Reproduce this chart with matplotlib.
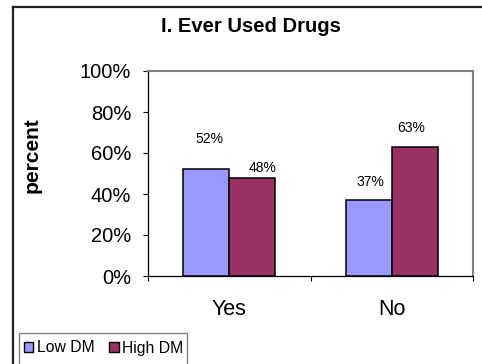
import matplotlib
matplotlib.use("Agg")
import matplotlib.pyplot as plt
from matplotlib.patches import Rectangle, Patch
from matplotlib.lines import Line2D
import numpy as np

plt.rcParams['font.family'] = ['Liberation Sans', 'DejaVu Sans']

categories = ["Yes", "No"]
series_names = ["Low DM", "High DM"]
low_dm = [52, 37]
high_dm = [48, 63]
colors = ["#9999FF", "#993366"]
# pixel offsets (dx, dy) of each value label relative to its bar top centre
label_offsets = {
    "Low DM": [(3, 30), (2, 18)],
    "High DM": [(10, 10), (-4, 19)],
}

W, H = 482, 364
fig = plt.figure(figsize=(W / 100, H / 100), dpi=100)

# plot area
ax = fig.add_axes([148 / W, 1 - 276 / H, (473 - 148) / W, (276 - 71) / H])

x = np.arange(len(categories))
bw = 0.283
bars_low = ax.bar(x - bw / 2, low_dm, bw, color=colors[0], edgecolor="black", linewidth=1.1, zorder=3)
bars_high = ax.bar(x + bw / 2, high_dm, bw, color=colors[1], edgecolor="black", linewidth=1.1, zorder=3)

for bars, vals, name in [(bars_low, low_dm, "Low DM"), (bars_high, high_dm, "High DM")]:
    for b, v, (dx, dy) in zip(bars, vals, label_offsets[name]):
        ax.annotate(f"{v}%", (b.get_x() + b.get_width() / 2, v),
                    xytext=(dx * 0.72, dy * 0.72), textcoords="offset points",
                    ha="center", va="center", fontsize=10)

ax.set_xlim(-0.5, 1.5)
ax.set_ylim(0, 100)
ax.set_yticks(range(0, 101, 20))
ax.set_yticklabels([f"{v}%" for v in range(0, 101, 20)], fontsize=14.5)
ax.tick_params(axis="y", direction="out", length=3.6, width=0.8, pad=8.5)

ax.set_xticks([-0.5, 0.5, 1.5])
ax.set_xticklabels([])
ax.tick_params(axis="x", which="major", direction="out", length=3.6, width=0.8)
ax.set_xticks(x, minor=True)
ax.set_xticklabels(categories, minor=True, fontsize=15.5)
ax.tick_params(axis="x", which="minor", length=0, pad=16.5)

for s in ["top", "right"]:
    ax.spines[s].set_color("#808080")
    ax.spines[s].set_linewidth(1.5)
for s in ["left", "bottom"]:
    ax.spines[s].set_color("black")
    ax.spines[s].set_linewidth(0.9)

fig.text(251 / W, 1 - 26 / H, "I. Ever Used Drugs", ha="center", va="center",
         fontsize=14.5, fontweight="bold")
fig.text(32 / W, 1 - 155 / H, "percent", ha="center", va="center",
         rotation=90, fontsize=15, fontweight="bold")

# chart area border (top and left edges visible)
fig.add_artist(Line2D([13 / W, 13 / W], [0, 1 - 7 / H], color="#222222", linewidth=1.6,
                      transform=fig.transFigure))
fig.add_artist(Line2D([13 / W, 1], [1 - 7 / H, 1 - 7 / H], color="#222222", linewidth=1.6,
                      transform=fig.transFigure))

# legend box
fig.add_artist(Rectangle((19 / W, -0.05), (187 - 19) / W, 1 - 333 / H + 0.05,
                         transform=fig.transFigure, fill=False, edgecolor="#808080",
                         linewidth=1.0))
handles = [Patch(facecolor=c, edgecolor="black", linewidth=1.0) for c in colors]
fig.legend(handles, series_names, loc="center left",
           bbox_to_anchor=(24 / W, 1 - 348 / H), frameon=False, ncol=2,
           fontsize=11.3, handlelength=0.6, handleheight=0.6, handletextpad=0.25,
           columnspacing=0.9, borderpad=0, borderaxespad=0)

fig.savefig("out.png", dpi=100)
